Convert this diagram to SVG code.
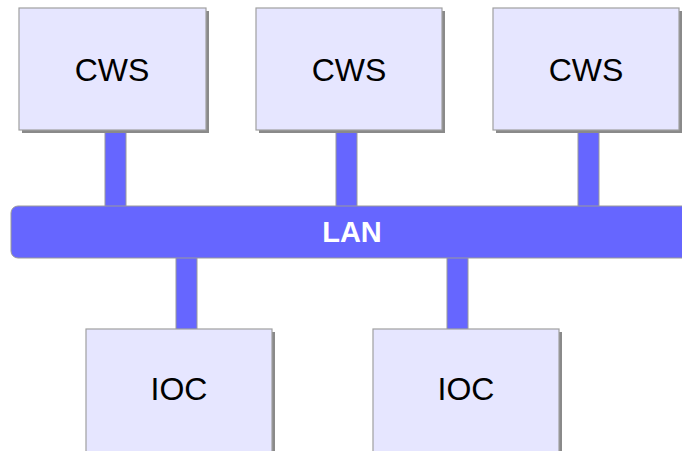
<svg xmlns="http://www.w3.org/2000/svg" width="682" height="451" viewBox="0 0 682 451">
<style>
.box{fill:#e6e6ff;stroke:#a0a0a0;stroke-width:1.2}
.sh{fill:#8a8a8a}
.stem{fill:#6666ff;stroke:#9a9a9a;stroke-width:1}
.lbl{font-family:"Liberation Sans",Arial,sans-serif;font-size:32px;fill:#000;text-anchor:middle}
.lan{font-family:"Liberation Sans",Arial,sans-serif;font-size:29px;font-weight:bold;fill:#fff;text-anchor:middle}
</style>
<rect width="682" height="451" fill="#fff"/>
<g id="connectors">
<rect class="stem" x="105" y="130" width="21" height="77"/>
<rect class="stem" x="336" y="130" width="21" height="77"/>
<rect class="stem" x="578" y="130" width="21" height="77"/>
<rect class="stem" x="176" y="257" width="21" height="73"/>
<rect class="stem" x="447" y="257" width="21" height="73"/>
</g>
<g id="lan">
<rect x="11" y="206" width="690" height="52" rx="7" fill="#6666ff" stroke="#9a9a9a" stroke-width="1"/>
<text class="lan" x="352" y="242">LAN</text>
</g>
<g id="cws1">
<rect class="sh" x="22" y="11" width="187" height="122"/>
<rect class="box" x="19" y="8" width="187" height="122"/>
<text class="lbl" x="112" y="81">CWS</text>
</g>
<g id="cws2">
<rect class="sh" x="259" y="11" width="186" height="122"/>
<rect class="box" x="256" y="8" width="186" height="122"/>
<text class="lbl" x="349" y="81">CWS</text>
</g>
<g id="cws3">
<rect class="sh" x="496" y="11" width="186" height="122"/>
<rect class="box" x="493" y="8" width="186" height="122"/>
<text class="lbl" x="586" y="81">CWS</text>
</g>
<g id="ioc1">
<rect class="sh" x="89" y="332" width="186" height="130"/>
<rect class="box" x="86" y="329" width="186" height="130"/>
<text class="lbl" x="179" y="400">IOC</text>
</g>
<g id="ioc2">
<rect class="sh" x="376" y="332" width="186" height="130"/>
<rect class="box" x="373" y="329" width="186" height="130"/>
<text class="lbl" x="466" y="400">IOC</text>
</g>
</svg>
